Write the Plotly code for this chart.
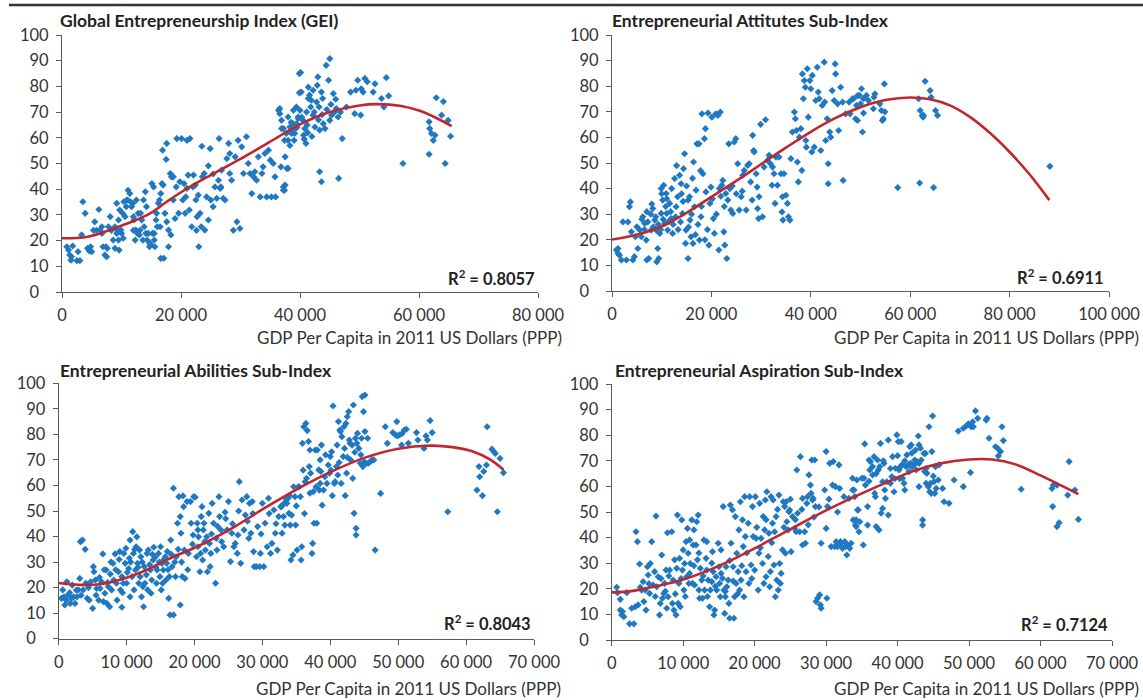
import numpy as np
import plotly.graph_objects as go

# ---------------- data (x in thousand US$, y index score) ----------------
gei_points = [
(0.8,17.6),(1.1,16.3),(1.3,14.4),(1.5,12.4),(1.6,13.7),(1.8,17.9),(2.5,12.2),(3.0,12.2),(2.7,15.7),(3.3,22.2),
(3.5,35.1),(3.9,30.6),(4.3,17),(4.6,16),(4.8,17.6),(5.0,15.7),(5.3,24),(5.5,27.3),(5.8,24),(6.2,32.1),
(6.7,25.4),(6.9,17.6),(7.2,14.4),(7.5,13.7),(7.8,25.4),(8.1,29.3),(8.3,24),(8.6,20.2),(8.9,17),(9.2,22.8),
(9.2,34.5),(9.5,28),(9.7,31.9),(10,22.8),(10.3,20.9),(10.6,29.3),(10.9,35.8),(11.1,39.6),(11.4,38.3),(11.7,33.2),
(12,29.3),(12,24),(12.3,20.2),(12.5,35.8),(12.8,30.6),(13.1,24),(13.4,28),(13.7,35.8),(14,39),(14.2,33.2),
(14.5,22.8),(14.8,18.9),(15.1,42.2),(15.4,40.9),(15.5,22.8),(15.6,17.6),(15.9,30.6),(16.2,34.5),(16.5,25.4),(16.6,13.1),
(17.1,13.1),(17,41.6),(16.9,55.2),(17.5,51.6),(17.6,57.8),(17.9,17.6),(18.2,46.1),(18.4,44.8),(18.7,35.8),(19,28.6),
(19.3,59.7),(19.8,42.9),(20.1,59.7),(20.7,30.6),(21,40.3),(21,59),(21.5,59.7),(21.2,45.5),(21.8,25.4),(22.1,45.5),
(22.4,41.6),(22.6,24),(22.9,37.7),(23,17.6),(23.2,30.6),(23.5,56.7),(23.6,44.8),(23.9,46.1),(24.3,37),(24.6,49.1),
(24.9,55.8),(25,35.8),(25.4,45.9),(25.7,40.9),(26,36.4),(26.4,59.7),(26.6,40.3),(26.8,47.4),(27.1,36.4),(27.7,51.9),
(28,57.8),(28.2,53.9),(28.5,43.5),(28.8,24),(29.4,27.3),(29.9,24.7),(29.6,59),(30.2,56.5),(31,60.4),(31.3,50),
(31.6,46.1),(31.9,38.3),(32.4,46.8),(32.7,43.5),(33.3,37),(33.8,48.7),(34.1,53.9),(34.4,37),(35,51.3),(35.2,37),
(35.5,50),(35.9,37),(36.4,70.7),(36.6,69.4),(36.9,63.6),(37.2,39.6),(37.5,41.6),(37.8,48.1),(38,59),(38.3,64.2),
(38.9,70.7),(39.2,63.6),(39.4,72),(39.7,68.1),(39.9,77.5),(39.9,85),
(36.6,71.4),(36.9,66.8),(37.2,63.6),(37.4,59),(37.7,61.7),(38,68.1),(38.6,62.3),(38.8,65.5),(39.1,61.7),(39.7,67.5),
(40,70.7),(40.1,85.4),(40.2,77.8),(40.5,66.8),(40.6,61),(40.8,63.6),(41,57.8),(41.1,70),(41.4,79.7),(41.4,75.3),
(41.6,76.6),(41.9,74.6),(42.2,78.5),(42.2,68.8),(42.5,64.2),(42.8,73.9),(42.9,80.4),(43,83.7),(43.2,72),(43.3,63),
(43.6,77.8),(43.8,75.3),(43.9,65.5),(44.2,63.6),(44.4,88.2),(44.8,82.4),(45,90.8),(45,66.8),(45.3,68.8),(45.6,77.2),
(45.8,70),(46.1,71.4),(46.4,68.1),(46.5,44.2),(47.1,59.7),(47.8,72),(48.5,77.8),(49.2,69.4),(49.4,78.5),(49.7,82.4),
(50.2,68.8),(50.3,79.1),(50.6,77.8),(50.9,83.1),(51.3,81.8),(52.3,77.8),(52.6,81),(53.7,75.3),(54.1,72),(54.5,83.4),
(54.9,76.3),(43.3,46.8),(43.6,42.9),(38,48.1),(37.2,40.9),(37.4,39.6),(57.3,50),(61.7,66.2),(61.8,63.6),(62.1,61.7),
(62.4,59),(62.7,61),(62.9,75.6),(63.8,68.8),(64.1,74.1),(64.9,66.8),(65.3,60.6),(61.7,53.6),(64.4,50),
(6.4,24.1),(6.7,22.8),(7.4,17.6),(7.6,17),(8.9,25.4),(9.3,24.1),(9.5,20.2),(9.6,16.3),(9.9,24.1),(10.2,30.6),
(10.4,35.1),(10.8,33.2),(11,35.8),(11.5,35.1),(11.9,34.5),(12.1,28),(12.4,24.1),(12.7,22.8),(13,22.2),(13.2,30.6),
(13.6,20.2),(13.8,25.4),(14.1,22.8),(14.3,20.2),(14.7,17.6),(14.9,18.3),(15.2,22.8),(15.5,20.2),(15.8,28),(16,25.4),
(16.4,35.8),(16.6,38.3),(16.8,42.2),(17.3,30.6),(17.6,27.3),(17.9,24.1),(18.3,22.2),(18.7,44.8),(19.2,40.9),(19.6,30.6),
(20.3,35.8),(20.5,42.2),(20.8,37),(21.4,31.9),(22,40.9),(22.5,35.8),(22.7,29.3),(23.4,25.4),(24,24.1),(24.6,28),
(25.4,33.2),(26.3,43.5),(26.7,40.9),(27.4,35.8),(28.2,46.1),(29.1,52.6),(30.5,46.1),(32.2,44.8),(33,52.6),(33.6,46.1),
(34.7,55.2),(35.8,44.8),(36.8,48.7),(37.5,52.6),(38.6,61.7),(39.4,65.5),
(38.5,66),(39.5,64),(40.3,68),(41.2,65),(41.8,72),(42.4,70),(43.1,67),(43.7,69),(44.5,71),(45.2,73),
(46,75),(46.8,70),(40.7,59.5),(41.3,62),(42,60.5),(38.3,57),(39,59),
]
gei_trend = [(0,20.9),(3.6,21.2),(6.4,22.8),(9.2,25.1),(12,27.6),(14.8,30.6),(17.6,35.1),(20.4,39.4),(25,45.5),
             (30,51.8),(35,58.5),(40,65.2),(45,70),(50,72.6),(53,73.1),(57,72.4),(60,70.6),(63,67.6),(65.5,64.5)]
gei_r2 = "0.8057"

att_points = [
(0.9,16),(1.2,14.7),(1.5,14),(1.9,12.1),(1.2,16.6),(2.2,27),(2.9,12.1),(3.2,27),(3.5,32.9),(3.7,34.8),
(3.9,23.1),(4.2,12.1),(4.5,13.4),(4.7,21.2),(5,25.1),(5.2,16.6),(5.6,23.8),(5.9,21.2),(6.2,29),(6.6,26.4),
(6.9,19.9),(7,12.1),(7.4,12.7),(7.9,23.8),(8.2,32.2),(8.6,27.7),(8.9,23.8),(9,11.4),(9.2,16.6),(9.4,12.7),
(9.6,22.5),(9.9,30.3),(9.9,40),(10.2,35.5),(10.4,41.3),(10.6,26.4),(10.9,38.1),(11,30.3),(11.2,23.8),(11.6,34.2),
(11.9,28.3),(12.2,22.5),(12.6,43.9),(12.9,32.9),(13.2,36.8),(13.6,45.2),(13.9,41.9),(14.2,30.3),(14.4,47.8),(14.6,53.6),
(14.8,18.6),(14.9,23.8),(15.3,12.7),(15.3,35.5),(15.6,36.8),(15.7,27.7),(15.9,21.2),(16.3,18.6),(16.4,50.4),(16.6,32.9),
(16.9,39.4),(17.1,57.5),(17.5,57.5),(17.6,19.9),(17.9,29),(18.1,69.2),(18.3,45.8),(18.6,59.5),(18.8,63.4),(18.9,38.7),
(19.3,69.5),(19.5,17.9),(19.7,34.2),(19.9,40.6),(20.1,67.9),(20.4,28.3),(20.6,22.5),(20.9,69.2),(21.3,68.6),(21.5,16),
(21.6,40),(21.8,69.9),(22.1,41.3),(22.3,43.2),(22.5,23.1),(22.7,17.9),(22.9,38.1),(23.1,12.7),(23.3,35.5),(23.5,57.5),
(23.9,31.6),(24.3,30.3),(24.6,58.2),(24.9,59.5),(25.3,49.7),(25.6,31.6),(26,36.8),(26.3,45.2),(26.6,47.1),(27,31.6),
(27.3,49.1),(27.6,49.7),(27.9,42.6),(28.2,35.5),(28.3,60.8),(28.5,54.9),(28.6,54.3),(29,45.8),(29.2,40.6),(29.3,32.2),
(29.5,28.3),(29.6,36.8),(29.9,65.1),(30.3,29),(30.6,48.4),(30.9,66.9),(31.3,51),(31.6,53),(31.9,49.7),(32.2,41.3),
(32.3,48.4),(32.6,45.8),(32.8,34.2),(33,52.3),(33.3,41.3),(33.6,52.3),(34,45.8),(34.2,30.9),(34.3,36.8),(34.4,27.7),
(34.6,45.8),(35,37.4),(35.3,34.2),(35.5,29),(35.8,27.7),(36,51.7),(36.3,62.1),(36.7,69.9),(36.9,67.3),(37.1,62.7),
(37.3,50.4),(37.5,42.6),(37.7,60.1),(38,63.4),(38.2,47.1),(38.3,84.8),(38.5,75.1),(38.7,82.2),(38.9,79.6),(39,58.8),
(39.1,56.2),(39.3,86.8),(39.5,67.9),(39.8,82.2),(40,79),(40.2,54.3),(40.3,84.2),(40.7,56.2),(41,74.4),(41.3,87.4),
(41.5,77.7),(41.7,75.1),(42,54.9),(42.3,72.5),(42.7,89.4),(42.8,73.8),(43,58.8),(43.3,67.3),(43.5,49.7),(43.5,41.9),
(43.8,62.1),(44,60.1),(44.3,78.3),(44.7,74.4),(44.9,88.7),(45,84.8),(45.4,73.1),(45.6,62.7),(46,79.6),(46.4,73.8),
(46.5,43.2),(47,69.2),(47.7,73.8),(48.4,75.1),(49,67.3),(49.4,76.3),
(47.9,69.2),(48.6,75.1),(49.2,72.5),(49.4,66.6),(49.8,76.4),(50,73.1),(50.2,79),(50.4,62.1),(50.6,75.1),(50.6,69.5),
(51.2,76.4),(51.6,74.4),(52.6,71.2),(52.7,75.7),(52.9,77),(53.9,73.1),(54.2,70.5),(54.4,66.6),(54.6,67.3),(54.8,80.9),
(54.9,70),(57.5,40.4),(61.7,75.1),(61.9,42.2),(62,70.5),(62.4,68.6),(62.6,67.9),(62.7,68.6),(63,81.9),(64,78.3),
(64.2,75.7),(64.7,40.4),(65.1,70.5),(65.5,68.6),(88.1,48.7),
(6,28),(6.5,24),(7.2,27),(7.8,30),(8.3,25),(8.8,29),(9.3,26),(9.8,24),(10.3,28),(10.8,33),
(11.3,27),(11.8,31),(12.3,26),(12.8,29),(13.3,24),(13.8,27),(14.3,35),(10,38),(11,36),(12,40),
(8,34),(7,31),(15.4,25),(16,30),(16.8,22),(17.3,26),(18,33),(18.7,20),(19.2,24),(20.2,36),
(21,30),(21.9,37),(22.6,33),(23.7,40),(24.2,41),(25,38),(26.2,39),(15,41),(16.2,44),(17.8,47),
(13,49),(14,38),
]
att_trend = [(0,20.1),(5,22),(10,25.2),(15,30.5),(20,36.8),(25,43),(30,49.5),(35,56),(40,62.2),(45,67.6),
             (50,71.8),(55,74.6),(60,75.6),(64,74.9),(68,72.5),(72,68),(76,61.8),(80,54.3),(84,45.6),(88,35.5)]
att_r2 = "0.6911"

abi_points = [
(0.4,15.8),(0.6,19.1),(0.8,16.4),(0.9,13.2),(1.1,15.1),(1.2,22.3),(1.4,17.1),(1.7,13.8),(1.9,15.8),(2.2,16.4),
(2.4,13.8),(2.7,16.4),(2.9,19.1),(3.1,23.6),(3.2,38),(3.5,38.6),(3.6,19.1),(3.9,35),(4,21.7),(4.2,15.8),
(4.5,15.1),(4.7,22.3),(5,11.9),(5.1,28.2),(5.2,26.2),(5.4,23),(5.6,19.7),(5.9,15.1),(6.1,19.7),(6.3,22.3),
(6.5,33.2),(6.6,14.5),(6.8,17.8),(7,26.9),(7.1,13.8),(7.3,20.4),(7.5,12.5),(7.6,25.3),(7.8,19.1),(8,29.5),
(8.1,23),(8.3,33.2),(8.5,21.7),(8.6,15.1),(8.8,26.2),(9,34.1),(9.1,19.1),(9.3,12.3),(9.3,24.3),(9.5,21.7),
(9.6,33.4),(9.8,29.5),(9.9,35.4),(10,21.7),(10.3,27.5),(10.4,31.5),(10.5,16.4),(10.5,38.6),(10.8,24.3),(10.9,41.9),
(11,33.4),(11.1,19.1),(11.3,26.9),(11.4,36),(11.5,39.9),(11.6,29.5),(11.8,21.7),(11.9,34.7),(12,24.3),(12.1,32.1),
(12.2,16.4),(12.4,20.4),(12.5,12.5),(12.6,28.2),(12.7,21.7),(13,33.4),(13.1,19.1),(13.2,34.7),(13.5,26.9),(13.6,17.8),
(13.7,23),(13.9,30.8),(14,35.8),(14.2,31.9),(14.4,21.7),(14.5,26.9),(14.7,33.4),(14.9,24.3),(15,36),(15.1,19.1),
(15.2,29.5),(15.3,21.7),(15.4,26.9),(15.7,32.1),(15.8,23),(15.9,29.5),(16,34.1),(16.2,15.8),(16.3,24.3),(16.4,9.3),
(16.5,38.6),(16.7,28.2),(16.9,9.3),(16.9,58.9),(17.2,24.3),(17.3,32.1),(17.5,45.2),(17.7,55.6),(17.9,47.8),(17.9,13.2),
(18,41.3),(18.2,24.3),(18.3,55.9),(18.4,51.7),(18.5,34.7),(18.6,23.6),(18.9,53.7),(19.1,33.4),(19.4,53.7),(19.5,45.2),
(19.8,40.6),(19.9,55.6),(20.1,55.4),(20.3,32.1),(20.4,45.2),(20.5,42.6),(20.6,39.9),(20.8,26.2),(20.9,33.4),(21,47.8),
(21.1,51.7),(21.2,30.8),(21.3,42.6),(21.4,45.2),(21.6,34.7),(21.8,39.9),(21.9,26.2),(22.1,49.1),(22.2,37.3),(22.3,28.2),
(22.4,33.4),(22.6,53),(22.8,45.2),(23.1,21.7),(23.2,39.3),(23.3,34.7),(23.6,55.6),(23.7,47.8),(23.9,42.6),(24.3,36),
(24.5,49.5),(24.8,42.6),(25,53.7),(25.3,30.2),(25.5,41.3),(25.8,36),(26,37.3),(26.3,33.4),(26.4,40.6),(26.6,61.5),
(26.8,29.5),(27,54.3),(27.3,42.6),(27.5,48.4),(27.7,55.6),(28,39.3),(28.1,53),(28.3,41.3),(28.5,53.7),(28.7,34.1),
(28.8,28.2),(29.1,28.2),(29.3,43.9),(29.6,28.2),(29.7,33.4),(30,53),(30.2,28.2),(30.4,45.2),(30.7,36),(30.9,55),
(31.2,33.4),(31.4,37.3),(31.7,50.4),(31.9,41.3),(32.2,34.7),(32.4,47.8),(32.7,51.7),(32.9,41.3),(33.2,53),(33.4,55),
(33.6,53),(33.9,49.1),(34.1,44.5),(34.2,30.8),(34.5,32.8),(34.9,44.5),(35.1,34.7),(35.4,59.5),
(32.8,51.7),(33.1,47.8),(33.3,44.5),(33.8,55),(34.3,48.4),(34.6,59.5),(34.8,55.6),(35.3,59.5),(35.6,55.6),(35.7,30.8),
(35.8,36),(35.9,76.5),(36.1,83),(36.3,61.5),(36.4,84.3),(36.5,62.8),(36.6,81.5),(36.8,77.2),(36.9,67.4),(37,73.9),
(37.1,64.8),(37.3,33.4),(37.4,37.3),(37.5,57.6),(37.6,45.2),(37.8,73.9),(37.9,59.5),(38,45.2),(38.1,73.9),(38.3,66.1),
(38.4,58.2),(38.5,60.8),(38.6,65.5),(38.7,75.8),(38.8,52.3),(39,58.2),(39.2,63.4),(39.5,60.8),(39.7,68),(39.9,64.8),
(40,71.3),(40.2,73.2),(40.3,56),(40.4,91.1),(40.6,60.8),(40.7,61.5),(40.9,67.4),(41,75.8),(41.1,64.1),(41.2,85),
(41.4,81.7),(41.5,81.1),(41.6,60.8),(41.7,79.1),(41.9,71.3),(42,83),(42.1,74.5),(42.2,56),(42.3,84.3),(42.4,64.8),
(42.5,86.9),(42.7,88.9),(42.8,77.8),(42.9,76.5),(43,70),(43.2,75.8),(43.3,62.8),(43.4,91.5),(43.5,49.1),(43.7,78.5),
(43.8,43.2),(43.8,40.6),(43.9,76.5),(44,80.4),(44.2,74.5),(44.4,68.7),(44.6,78.5),(44.7,94.8),(44.8,67.4),(44.9,88.9),
(45,69.3),(45.1,95.4),(45.1,81.1),(45.3,68.7),(45.5,78.5),(45.6,68.7),(45.9,69.3),(46.1,70),(46.4,70),(46.6,34.7),
(47.4,56.9),(48.1,83),(48.4,76.5),(49.2,80.7),(49.6,79.8),(49.8,85),(49.9,79.4),(50.2,79.8),(50.5,75.8),(50.6,80.4),
(50.9,81.7),(51.2,82),(51.5,76.5),(52.7,80.7),(52.9,77.8),(53.8,74.5),(54.1,79.4),(54.3,77.8),(54.7,85.4),(55,80.7),
(57.3,49.7),(61.6,58.2),(61.9,67.4),(62,63.4),(62.4,56),(62.6,65.5),(63,68),(63.1,83),(63.8,74.2),(64.1,73.2),
(64.3,72.5),(64.6,49.7),(65,70.6),(65.5,65),
(1.6,18),(2,21),(2.6,19),(3.3,17),(4.4,20),(5.5,17),(6,24),(6.7,27),(7.2,22),(7.7,30),
(8.4,27),(8.9,31),(9.4,18),(10.1,26),(10.6,30),(11.2,35),(11.7,28),(12.3,30),(12.9,25),(13.4,29),
(13.8,33),(14.3,28),(14.8,30),(15.5,31),(16.1,27),(16.6,33),(17.1,30),(17.6,35),(18.1,30),(19,27),
(19.7,37),(20.5,36),(21.5,38),(22.5,41),(23.4,44),(24,38),(24.6,47),(25.6,45),(26.5,50),(27.8,46),
(28.6,49),(29.8,41),(31,49),(32,45),(34,56),(36,66),(37,57),(38.5,70),(39.3,72),(40.1,66),
(41.3,69),(42.5,71),(43.6,73),(44.5,72),(35,52),(36.2,49),
]
abi_trend = [(0,21.8),(3,21.1),(6,21.3),(10,23.9),(13.5,27.6),(16,31),(20,35.6),(23.3,40),(26,44),(30,50.6),
             (33,55.3),(36,59.8),(40,65.2),(45,70.8),(50,74.4),(54.7,75.6),(58,75),(61,73.3),(63.5,70.2),(65.5,66.2)]
abi_r2 = "0.8043"

asp_points = [
(0.7,20.6),(0.8,18.5),(1.2,15.9),(1.2,11.7),(1.4,9.8),(1.5,11.1),(1.7,9.1),(2.1,18.5),(2.5,6.3),(2.8,12.4),
(3.1,6.3),(3.3,13),(3.4,42.3),(3.6,38.4),(3.7,13.7),(3.9,29.7),(4,20.6),(4.2,19.5),(4.4,22.8),(4.7,19.5),
(4.8,11.7),(5,28.6),(5.1,25.4),(5.3,18.2),(5.4,29.9),(5.6,38.4),(5.8,21.5),(6,26.7),(6.2,48.4),(6.3,20.8),
(6.5,24.7),(6.7,9.8),(6.8,14.3),(7,33.2),(7.1,16.3),(7.3,18.2),(7.4,22.1),(7.6,27.3),(7.7,12.4),(7.8,41.9),
(7.9,16.9),(8.1,27.3),(8.4,42.3),(8.5,14.3),(8.6,23.4),(8.7,11.7),(8.8,31.3),(9,9.8),(9.1,28),(9.2,48.8),
(9.3,14.3),(9.4,22.1),(9.5,31.9),(9.6,13),(9.8,46.9),(9.9,27.3),(10,35.2),(10.1,19.5),(10.2,29.9),(10.4,38.4),
(10.5,24.7),(10.6,43.6),(10.7,33.9),(10.8,22.1),(10.9,39.1),(11,29.9),(11.2,46.9),(11.3,22.1),(11.4,37.1),(11.5,43),
(11.6,21.5),(11.8,37.1),(11.9,46.2),(12,31.3),(12.1,48.8),(12.2,19.5),(12.3,16.3),(12.4,28),(12.6,23.4),(12.7,16.3),
(12.9,39.1),(13,19.5),(13.2,31.9),(13.3,27.3),(13.3,38.4),(13.5,23.4),(13.7,13),(13.8,19.5),(14,22.8),(14.1,34.5),
(14.2,26.7),(14.3,9.8),(14.4,11.7),(14.6,24.7),(14.7,19.5),(14.9,37.8),(15,28.6),(15.1,22.1),(15.2,16.9),(15.3,35.2),
(15.5,24.1),(15.6,52.1),(15.7,19.5),(15.8,10.4),(15.9,16.9),(16,28.6),(16.1,20.8),(16.3,23.4),(16.4,14.3),(16.5,8.5),
(16.6,52.7),(16.7,37.8),(16.9,50.8),(17,28.6),(17.1,8.5),(17.2,16.9),(17.3,48.2),(17.4,22.1),(17.5,33.9),(17.7,26.7),
(17.8,43),(17.9,19.5),(18,54),(18.1,23.4),(18.3,46.9),(18.4,36.5),(18.5,16.9),(18.6,56),(18.7,40.4),(18.8,26.7),
(19.1,45.6),(19.2,22.1),(19.3,56),(19.5,29.3),(19.7,52.1),(19.8,40.4),(20,27.3),(20.1,56),(20.2,39.7),(20.5,19.5),
(20.6,33.9),(20.7,53.4),(20.9,39.7),(21.1,29.9),(21.2,48.2),(21.3,22.1),(21.4,43),(21.5,54.7),(21.6,24.7),(21.7,57.9),
(21.9,32.6),(22,41.7),(22.1,20.8),(22.2,26.7),(22.3,56),(22.5,45.6),(22.6,54.7),(22.7,29.3),(22.8,42.3),(22.9,16.9),
(23,48.2),(23.1,23.4),(23.3,19.5),(23.4,56.6),(23.5,29.9),(23.6,22.1),(23.7,26),(23.9,35.2),(24,54),(24.2,52.1),
(24.3,33.9),(24.4,54),(24.5,46.2),(24.7,43),(24.8,50.1),(24.9,50.8),(25.1,34.5),(25.3,48.2),(25.6,43.6),(25.8,42.3),
(25.9,66.4),(26,49.5),(26.3,42.3),(26.4,71.6),(26.7,37.1),(26.7,55.3),(27,42.3),(27.1,37.8),(27.3,53.4),(27.4,56),
(27.6,64.5),(27.8,60.5),(27.9,57.3),(28,70.3),(28.1,54.7),(28.2,55.3),(28.4,70.3),(28.5,52.1),(28.6,15),(28.8,16.3),
(29.1,17.6),(29.2,13.7),(29.3,12.4),(29.3,37.8),(29.8,58.6),(30,73.6),(30,43.6),(30.1,16.3),(30.2,52.1),(30.5,69),
(30.7,36.5),(30.9,60.5),(31,69.7),(31.2,36.5),(31.3,59.9),(31.4,38.4),(31.6,36.5),(31.8,68.4),(31.9,59.2),(32,38.4),
(32.1,37.8),(32.3,35.8),(32.6,38.4),(32.7,36.5),(32.9,33.2),(33,37.1),(33.3,35.8),(33.5,37.8),(33.7,63.2),(33.9,58.6),
(34.1,44.9),(34.2,46.9),(34.3,62.5),(34.4,50.8),(34.6,42.3),
(33.2,55.3),(33.7,58.6),(33.8,46.9),(34,56),(34.2,44.3),(34.5,50.8),(34.7,46.2),(35,63.2),(35.2,37.1),(35.3,63.2),
(35.4,76.6),(35.5,60.5),(35.8,44.9),(35.8,52.1),(36,70.3),(36.1,66.4),(36.2,69.7),(36.5,67.7),(36.5,64.5),(36.7,71.6),
(36.8,57.3),(36.9,56),(37,44.3),(37.2,70.3),(37.3,66.4),(37.4,43),(37.5,67.7),(37.6,76.8),(37.7,49.5),(37.9,51.4),
(37.9,61.8),(38.1,69),(38.2,58.6),(38.3,55.3),(38.5,61.8),(38.7,78.1),(38.7,48.8),(39,61.2),(39.2,63.8),(39.3,71.6),
(39.5,57.9),(39.6,63),(39.7,67.1),(39.9,80.1),(40.1,77.5),(40.2,66.4),(40.3,63),(40.4,67.7),(40.5,77.5),(40.6,68.4),
(40.7,63.2),(40.9,61.2),(41,58.6),(41.2,67.7),(41.3,72.3),(41.5,68.4),(41.6,65.8),(41.7,75.5),(41.8,69),(41.9,76.2),
(42,67.7),(42.3,68.4),(42.4,70.3),(42.5,74.2),(42.6,66.4),(42.7,69.7),(42.9,79.7),(43,76.2),(43,59.9),(43.2,74.9),
(43.3,70.3),(43.5,46.9),(43.5,44.9),(43.7,72.9),(43.8,65.8),(43.9,72.9),(44,61.2),(44.1,65.1),(44.3,59.9),(44.4,83.3),
(44.5,57.9),(44.6,61.2),(44.7,57.3),(44.8,73.6),(44.9,87.5),(45.1,61.8),(45.2,57.3),(45.3,67.7),(45.4,59.2),(45.7,62.5),
(45.8,68.4),(46.3,59.2),(46.5,54),(47.2,53.4),(47.9,62.5),(48.5,81.6),(49.2,59.9),(49.2,82.7),(49.6,83.6),(49.9,84.4),
(50.2,65.4),(50.3,83.3),(50.5,85.2),(50.6,83.3),(50.9,89.5),(51.2,86.6),(52.4,85.9),(52.5,86.6),(52.8,78.8),(53.7,75.5),
(54,74.9),(54.1,71.9),(54.4,73.6),(54.6,83.3),(54.8,77.9),(57.3,58.9),(61.6,59.2),(61.7,52.1),(61.8,60.5),(62.3,60.5),
(62.3,44.3),(62.6,45.8),(63.8,56.6),(64,69.7),(64.8,58.6),(65.3,47.1),
(4.5,15),(5.2,22),(6.1,17),(6.9,24),(7.5,19),(8,25),(8.9,18),(9.7,24),(10.3,17),(10.9,26),
(11.5,29),(12.2,34),(12.8,25),(13.4,17),(14,30),(14.5,21),(15.3,26),(15.9,19),(16.5,31),(17,23),
(17.6,18),(18.2,29),(18.9,34),(19.6,24),(20.3,44),(20.8,36),(21.6,47),(22.4,38),(23.2,51),(24.1,44),
(25,55),(25.7,47),(26.6,51),(27.5,45),(28.3,48),(29,52),(30.4,55),(31.6,50),(32.5,56),(36,62),
(37,65),(38,70),(39,67),(40,72),(41,70),(42,73),(43,69),(44,67),(45,64),
]
asp_trend = [(0,18.6),(3,19.2),(6.7,21.3),(10,23.6),(13.7,27.4),(16,30.2),(20,35.8),(23,40.3),(26,44.8),(30,50.6),
             (34,56),(38,61),(42,65.8),(46,69),(50,70.5),(53.2,70.5),(56.5,68.6),(60,64.3),(63,60.2),(65.3,57)]
asp_r2 = "0.7124"

x_ranges = [80000, 100000, 70000, 70000]
x_dticks = [20000, 20000, 10000, 10000]
y_ticks = [0, 10, 20, 30, 40, 50, 60, 70, 80, 90, 100]
titles = ["Global Entrepreneurship Index (GEI)", "Entrepreneurial Attitutes Sub-Index",
          "Entrepreneurial Abilities Sub-Index", "Entrepreneurial Aspiration Sub-Index"]
x_title = "GDP Per Capita in 2011 US Dollars (PPP)"

# ---------------- layout geometry (pixels) ----------------
W, H = 1143, 700
# (x_left, x_right, y_top(100), y_bottom(0)) in px
boxes = [(62, 538, 35, 292), (612, 1109, 35, 291), (58.7, 534, 383.3, 638.7), (611.7, 1112, 384, 640)]
title_pos = [(58, 20), (610, 20), (58, 370), (613, 370)]
xtitle_pos = [(564, 337), (1141, 337), (563, 688), (1141, 688)]
r2_pos = [(537, 278), (1106, 277), (533, 623), (1110, 624)]

BLUE = "#1f78c1"
RED = "#c0272d"
AXIS = "#5a5a5a"
TXT = "#333333"
FONT = "Lato"

fig = go.Figure()
panels = [(gei_points, gei_trend, gei_r2), (att_points, att_trend, att_r2),
          (abi_points, abi_trend, abi_r2), (asp_points, asp_trend, asp_r2)]

y_text = [("0\u2007" if v == 0 else str(v)) for v in y_ticks]

annotations = []
for i, (pts, trend, r2) in enumerate(panels):
    sfx = "" if i == 0 else str(i + 1)
    arr = np.array(pts, dtype=float)
    tr = np.array(trend, dtype=float)
    fig.add_trace(go.Scatter(x=arr[:, 0] * 1000, y=arr[:, 1], mode="markers",
                             marker=dict(symbol="diamond", size=5.5, color=BLUE, line=dict(width=0)),
                             xaxis="x" + sfx, yaxis="y" + sfx, showlegend=False, cliponaxis=False,
                             hoverinfo="x+y"))
    fig.add_trace(go.Scatter(x=tr[:, 0] * 1000, y=tr[:, 1], mode="lines",
                             line=dict(color=RED, width=2.6, shape="spline", smoothing=1.0),
                             xaxis="x" + sfx, yaxis="y" + sfx, showlegend=False, hoverinfo="skip"))
    xl, xr, yt, yb = boxes[i]
    fig.layout["xaxis" + sfx] = dict(
        domain=[xl / W, xr / W], anchor="y" + sfx, range=[0, x_ranges[i]], dtick=x_dticks[i],
        tick0=0, showline=True, linecolor=AXIS, linewidth=1, ticks="outside", ticklen=5,
        tickcolor=AXIS, showgrid=False, zeroline=False, tickformat=",d",
        tickfont=dict(family=FONT, size=16.5, color=TXT), ticklabelstandoff=3, fixedrange=True)
    fig.layout["yaxis" + sfx] = dict(
        domain=[1 - yb / H, 1 - yt / H], anchor="x" + sfx, range=[0, 100],
        tickmode="array", tickvals=y_ticks, ticktext=y_text,
        showline=True, linecolor=AXIS, linewidth=1, ticks="outside", ticklen=5,
        tickcolor=AXIS, showgrid=False, zeroline=False,
        tickfont=dict(family=FONT, size=16.5, color=TXT), ticklabelstandoff=4, fixedrange=True)
    tx, ty = title_pos[i]
    annotations.append(dict(x=tx / W, y=1 - ty / H, xref="paper", yref="paper", text="<b>" + titles[i] + "</b>",
                            showarrow=False, xanchor="left", yanchor="middle",
                            font=dict(family=FONT, size=17.5, color="#222222")))
    ax_, ay_ = xtitle_pos[i]
    annotations.append(dict(x=ax_ / W, y=1 - ay_ / H, xref="paper", yref="paper", text=x_title,
                            showarrow=False, xanchor="right", yanchor="middle",
                            font=dict(family=FONT, size=17, color=TXT)))
    rx, ry = r2_pos[i]
    annotations.append(dict(x=rx / W, y=1 - ry / H, xref="paper", yref="paper",
                            text="<b>R<sup>2</sup> = " + r2 + "</b>",
                            showarrow=False, xanchor="right", yanchor="middle",
                            font=dict(family=FONT, size=16.5, color="#222222")))

fig.update_layout(
    width=W, height=H, margin=dict(l=0, r=0, t=0, b=0, autoexpand=False),
    paper_bgcolor="white", plot_bgcolor="white",
    separators=". ", font=dict(family=FONT, size=16, color=TXT),
    annotations=annotations,
    shapes=[dict(type="line", xref="paper", yref="paper", x0=9 / W, x1=1, y0=1 - 5 / H, y1=1 - 5 / H,
                 line=dict(color="#333333", width=2.5))],
)

fig.write_html("out.html",
               config={"displayModeBar": False, "staticPlot": False},
               post_script="document.body.style.margin='0';document.body.style.padding='0';"
                           "document.body.style.overflow='hidden';")
